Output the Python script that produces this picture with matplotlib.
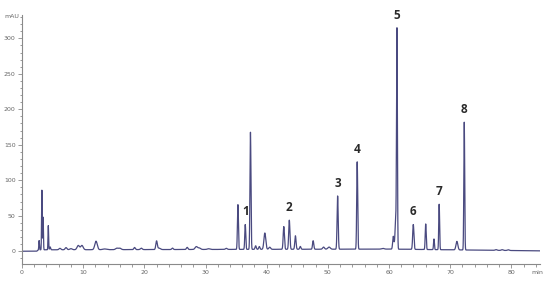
import numpy as np
import matplotlib.pyplot as plt
from matplotlib.ticker import MultipleLocator

# peak table: retention time (min), height (mAU), width (min)
rt = [2.8, 3.25, 3.45, 4.3, 4.6, 6.2, 7.2, 8.0, 9.2, 9.8, 12.1, 13.5, 15.5, 16.0,
      18.4, 19.5, 22.0, 22.4, 24.6, 27.0, 28.5, 29.0, 30.5, 33.4, 35.3, 36.5, 37.35,
      38.2, 38.8, 39.7, 40.5, 42.8, 43.7, 44.7, 45.5, 47.6, 49.3, 50.2, 51.6, 54.8,
      59.0, 60.7, 61.1, 61.3, 63.97, 66.0, 67.35, 68.2, 71.1, 72.3, 77.5, 78.5, 79.5]
height = [13, 84, 46, 34, 4, 2, 3, 1.5, 6, 6, 12, 1, 2, 2,
          3, 2, 12, 2, 2, 3, 4, 2, 1, 1.5, 63, 35, 165,
          5, 4, 23, 3, 32, 41, 19, 4, 12, 3, 3, 75, 123,
          1, 18, 40, 302, 35, 36, 15, 64, 12, 180, 1, 1, 1]
width = [0.05, 0.05, 0.05, 0.05, 0.08, 0.15, 0.15, 0.2, 0.2, 0.2, 0.2, 0.3, 0.2, 0.2,
         0.12, 0.15, 0.12, 0.2, 0.12, 0.12, 0.2, 0.2, 0.2, 0.15, 0.08, 0.08, 0.08,
         0.1, 0.1, 0.15, 0.15, 0.1, 0.1, 0.1, 0.1, 0.1, 0.15, 0.2, 0.09, 0.08,
         0.2, 0.1, 0.12, 0.07, 0.1, 0.08, 0.07, 0.07, 0.15, 0.07, 0.15, 0.15, 0.15]

# baseline drift
base_t = [0, 2.4, 2.7, 30, 60, 75, 85]
base_v = [0, 0, 2, 2.5, 3, 1.5, 0.5]

# numbered compounds
label_rt = [36.5, 43.7, 51.6, 54.8, 61.3, 63.97, 68.2, 72.3]
labels = ['1', '2', '3', '4', '5', '6', '7', '8']

t = np.arange(0, 85, 0.01)
signal = np.interp(t, base_t, base_v)
for r, h, w in zip(rt, height, width):
    signal += h * np.exp(-0.5 * ((t - r) / w) ** 2)

fig = plt.figure(figsize=(5.5, 2.81), dpi=100)
ax = fig.add_axes([0.04, 0.0605, 0.942, 0.8865])
ax.plot(t, signal, color='#4a4a80', lw=0.9)

for r, lab in zip(label_rt, labels):
    y = np.interp(r, t, signal)
    ax.annotate(lab, (r, y), xytext=(0, 4.5), textcoords='offset points',
                ha='center', va='bottom', fontsize=8.5, fontweight='bold',
                color='#2a2a2a', family='Open Sans')

ax.set_xlim(0, 84.7)
ax.set_ylim(-18, 333)
ax.xaxis.set_major_locator(MultipleLocator(10))
ax.xaxis.set_minor_locator(MultipleLocator(2))
ax.yaxis.set_major_locator(MultipleLocator(50))
ax.yaxis.set_minor_locator(MultipleLocator(10))
ax.set_yticks(range(0, 301, 50))
ax.set_xticks(range(0, 81, 10))

for s in ['top', 'right']:
    ax.spines[s].set_visible(False)
for s in ['left', 'bottom']:
    ax.spines[s].set_color('#8a8a8a')
    ax.spines[s].set_linewidth(0.8)

ax.tick_params(which='both', colors='#8a8a8a', labelcolor='#666666', labelsize=4.5,
               width=0.6, pad=1.5)
ax.tick_params(which='major', length=3)
ax.tick_params(which='minor', length=1.8)

fig.text(12 / 550, 1 - 16 / 281, 'mAU', fontsize=4.5, color='#666666', ha='center', va='center')
fig.text(537 / 550, 1 - 272 / 281, 'min', fontsize=4.5, color='#666666', ha='center', va='center')

fig.savefig('out.png', dpi=100)
